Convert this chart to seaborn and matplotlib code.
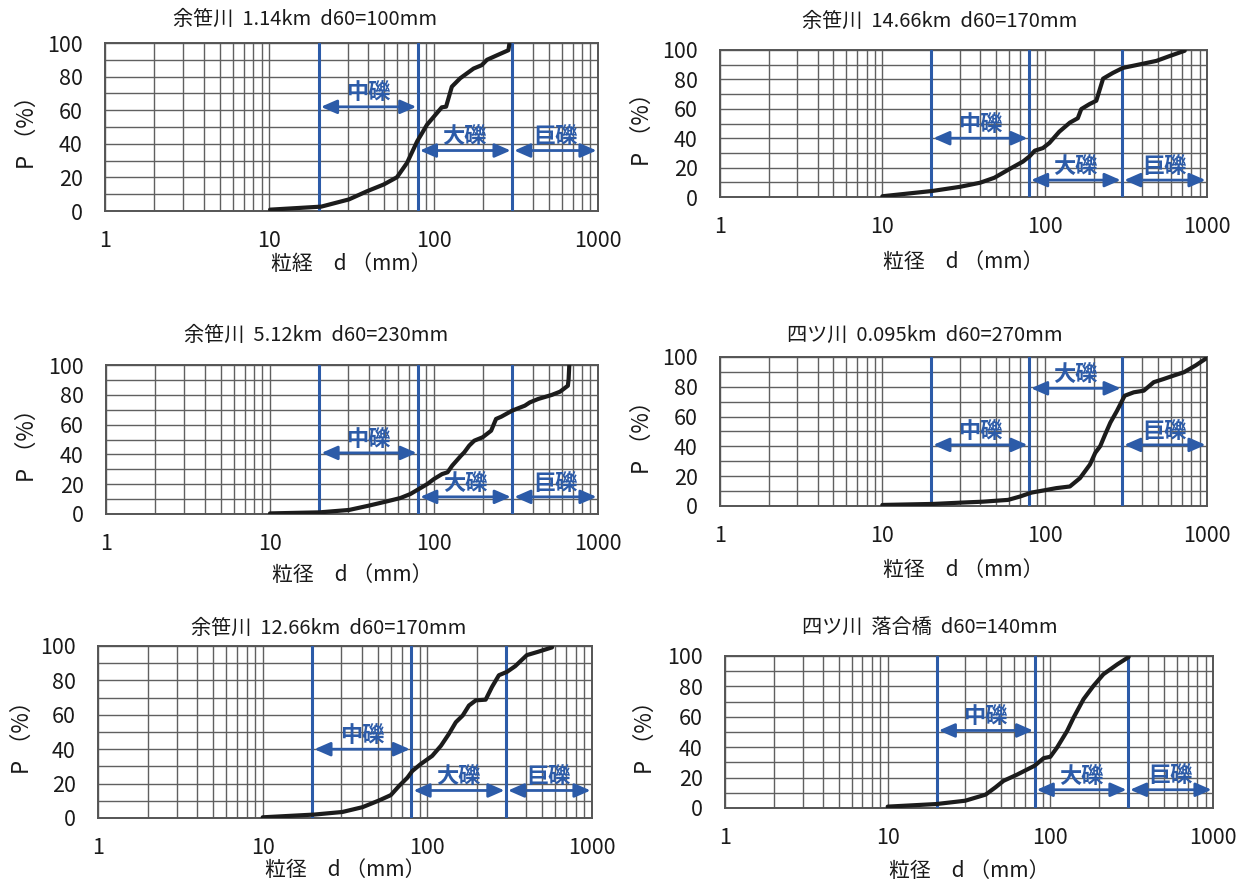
import numpy as np
import pandas as pd
import matplotlib
matplotlib.use("Agg")
import matplotlib.pyplot as plt
import matplotlib.ticker as mticker
import seaborn as sns

sns.set_theme(style="white")
plt.rcParams['font.family'] = ['Noto Sans CJK JP', 'DejaVu Sans']

# ---------------- data ----------------
titles = ["余笹川  1.14km  d60=100mm", "余笹川  14.66km  d60=170mm",
          "余笹川  5.12km  d60=230mm", "四ツ川  0.095km  d60=270mm",
          "余笹川  12.66km  d60=170mm", "四ツ川  落合橋  d60=140mm"]
xlabels = ["粒経　d （mm）", "粒径　d （mm）", "粒径　d （mm）",
           "粒径　d （mm）", "粒径　d （mm）", "粒径　d （mm）"]
ylabel = "P （%）"
x_ticks = [1, 10, 100, 1000]
x_ticklabels = ["1", "10", "100", "1000"]
y_ticks = [0, 20, 40, 60, 80, 100]
boundaries = [20, 80, 300, 1000]
class_names = ["中礫", "大礫", "巨礫"]

d1 = [10.1, 20.7, 30.5, 39.4, 49.7, 59.8, 68.8, 79.3, 91, 112, 119, 129, 145, 175, 196, 211, 243, 285, 289]
p1 = [0.8, 2.6, 6.9, 11.8, 15.8, 20.1, 28.6, 41.4, 51.3, 61.7, 62.1, 74, 79, 84.8, 86.8, 90, 92.7, 95.7, 99.6]

d2 = [10, 20.3, 30, 40, 49, 60.9, 73.5, 80.6, 86.9, 97.6, 107, 123, 143, 160, 168, 189, 208, 229, 263, 303, 366, 488, 589, 729]
p2 = [0.5, 4.1, 6.9, 9.7, 13.1, 19.1, 24.1, 27.6, 31.5, 33.3, 36.8, 44.4, 50.6, 53.6, 59.8, 63.2, 65.5, 80.5, 84.4, 87.8, 89.7, 92.6, 95.9, 99.5]

d3 = [10, 20, 30.3, 40, 51.7, 62.3, 71.7, 79.5, 91, 100, 112, 121, 129, 146, 153, 164, 176, 198, 223, 239, 257, 300, 358, 384, 432, 522, 587, 655, 662, 668]
p3 = [0.4, 1.1, 2.7, 5.6, 8.5, 10.7, 13.4, 16.3, 20.1, 23.5, 26.8, 28, 32.4, 39.1, 41.4, 45.9, 49.2, 51.5, 55.9, 63.8, 65.3, 69.4, 72.7, 74.9, 77.2, 79.9, 82.1, 86.1, 90.6, 99.6]

d4 = [10, 20.7, 31, 41.6, 59.5, 70.2, 83, 98, 118, 143, 165, 190, 205, 220, 236, 254, 279, 311, 354, 408, 470, 543, 626, 722, 853, 983]
p4 = [0.7, 1.4, 2.3, 2.9, 4.1, 6.3, 9.0, 10.4, 12, 13.1, 18.7, 27.8, 35.7, 40.2, 48.1, 56, 63.9, 74, 76.3, 77.4, 83.1, 85.3, 87.6, 89.8, 94.4, 98.9]

d5 = [10, 20.6, 30.5, 40.4, 50.9, 60, 67.3, 75.6, 81, 91, 107, 121, 135, 149, 164, 179, 197, 226, 247, 272, 305, 342, 402, 473, 572]
p5 = [0.4, 2, 3.5, 6.3, 10.2, 13.3, 18.6, 23.4, 27.3, 31.3, 36.1, 42, 48.8, 55.7, 59.6, 65.4, 68.4, 68.8, 76.2, 83, 85, 88.3, 94.7, 96.7, 99.2]

d6 = [10, 19.9, 30, 40, 46, 51.6, 62.3, 80, 91, 100, 110, 127, 139, 160, 184, 212, 258, 303]
p6 = [0.9, 2.6, 4.8, 8.8, 13.6, 17.9, 21.9, 27.8, 32.8, 33.7, 39.8, 50.8, 59.5, 71.6, 80.3, 88, 94.5, 99.3]

sizes = [d1, d2, d3, d4, d5, d6]
passing = [p1, p2, p3, p4, p5, p6]

# ---------------- layout (pixels) ----------------
W, H = 1241, 884
# left, right, top, bottom
boxes = [(105, 598, 43, 211), (720, 1207, 50, 197),
         (106, 598, 365, 514), (720, 1207, 357, 506),
         (98, 592, 646, 818), (725, 1213, 656, 808)]
title_pos = [(305, 19), (940, 21), (316, 335), (925, 335), (329, 628), (930, 628)]
xlabel_y = [264, 262, 575, 570, 870, 871]
ylabel_x = [27, 642, 27, 642, 22, 645]
arrow_y = [(62, 36, 36), (40, 11.5, 11.5), (41, 11.5, 11.5),
           (41, 79, 41), (40, 16, 16), (51, 12, 12)]

blue = '#2c5ba8'
grid_c = '#606060'

fig = plt.figure(figsize=(W / 100, H / 100), dpi=100)

for i in range(6):
    l, r, t, b = boxes[i]
    ax = fig.add_axes([l / W, 1 - b / H, (r - l) / W, (b - t) / H])
    df = pd.DataFrame({'d': sizes[i], 'P': passing[i]})
    sns.lineplot(data=df, x='d', y='P', ax=ax, color='#1c1c1c', lw=3.0,
                 sort=False, estimator=None, zorder=5)
    ax.set_xscale('log')
    ax.set_xlim(1, 1000)
    ax.set_ylim(0, 100)
    ax.set_xticks(x_ticks)
    ax.set_xticklabels(x_ticklabels)
    ax.xaxis.set_minor_locator(mticker.LogLocator(base=10, subs=np.arange(1, 10)))
    ax.xaxis.set_minor_formatter(mticker.NullFormatter())
    ax.set_yticks(y_ticks)
    ax.yaxis.set_minor_locator(mticker.MultipleLocator(10))
    ax.grid(True, which='both', color=grid_c, lw=1.0)
    ax.set_axisbelow(True)
    ax.tick_params(axis='both', which='both', length=0, labelsize=15.5, colors='#1a1a1a')
    ax.tick_params(axis='x', pad=14)
    ax.tick_params(axis='y', pad=16)
    for s in ax.spines.values():
        s.set_color('#555555')
        s.set_linewidth(1.4)
    ax.set_xlabel(xlabels[i], fontsize=15, color='#1a1a1a', va='center')
    ax.xaxis.set_label_coords(0.5, (b - xlabel_y[i]) / (b - t))
    ax.set_ylabel(ylabel, fontsize=16, color='#1a1a1a', va='center')
    ax.yaxis.set_label_coords((ylabel_x[i] - l) / (r - l), 0.5)
    fig.text(title_pos[i][0] / W, 1 - title_pos[i][1] / H, titles[i],
             ha='center', va='center', fontsize=14.5, color='#1a1a1a')
    for xb in boundaries[:3]:
        ax.axvline(xb, color=blue, lw=2.2, zorder=4)
    ys = arrow_y[i]
    for k in range(3):
        x0, x1 = boundaries[k], boundaries[k + 1]
        ax.annotate('', xy=(x0 * 1.03, ys[k]), xytext=(x1 / 1.02, ys[k]),
                    arrowprops=dict(arrowstyle='<|-|>,head_length=0.8,head_width=0.35',
                                    color=blue, lw=2.0, shrinkA=0, shrinkB=0), zorder=6)
        ax.text(np.sqrt(x0 * x1), ys[k] + 1.5, class_names[k], ha='center', va='bottom',
                fontsize=16, fontweight='bold', color=blue, zorder=7)

fig.savefig('out.png', dpi=100)
